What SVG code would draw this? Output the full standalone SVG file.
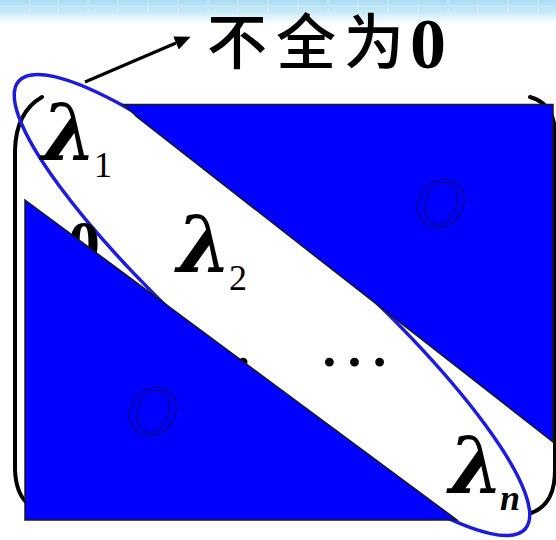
<svg xmlns="http://www.w3.org/2000/svg" width="556" height="540" viewBox="0 0 556 540">
<defs>
<linearGradient id="topband" x1="0" y1="0" x2="0" y2="1">
<stop offset="0" stop-color="#a9dcf3"/>
<stop offset="0.5" stop-color="#c8eaf8"/>
<stop offset="1" stop-color="#ffffff"/>
</linearGradient>
<marker id="arrowhead" viewBox="0 0 16 14" refX="0" refY="7" markerWidth="16" markerHeight="14" markerUnits="userSpaceOnUse" orient="auto">
<path d="M0,0 L16,7 L0,14 Z" fill="#000"/>
</marker>
<style>
.blk{fill:#0000ff;stroke:#1a1a1a;stroke-width:1.5;stroke-linejoin:miter}
.lam{font-family:"DejaVu Serif","Liberation Serif",serif;font-style:italic;font-weight:bold;font-size:78px;fill:#000}
.sub{font-family:"Liberation Serif","Times New Roman",serif;font-style:normal;font-weight:normal;font-size:36px}
.subn{font-family:"Liberation Serif","Times New Roman",serif;font-style:italic;font-weight:bold;font-size:36px}
.zero{font-family:"Liberation Serif","Times New Roman",serif;font-style:italic;fill:none;stroke:#000;stroke-width:0.6}
.brk{fill:none;stroke:#000;stroke-width:4;stroke-linecap:round}
.cjk{font-family:"Noto Sans CJK SC",sans-serif;font-size:60px;font-weight:500;fill:#000}
.dots{font-family:"Liberation Serif","Times New Roman",serif;font-size:75px;fill:#000}
</style>
</defs>
<rect x="0" y="0" width="556" height="540" fill="#ffffff"/>
<rect x="0" y="0" width="556" height="24" fill="url(#topband)"/>
<g stroke="#d8f1fb" stroke-width="1" opacity="0.7">
<line x1="30" y1="0" x2="30" y2="12"/><line x1="58" y1="0" x2="58" y2="12"/><line x1="88" y1="0" x2="88" y2="12"/><line x1="118" y1="0" x2="118" y2="12"/><line x1="148" y1="0" x2="148" y2="12"/><line x1="178" y1="0" x2="178" y2="12"/><line x1="208" y1="0" x2="208" y2="12"/><line x1="238" y1="0" x2="238" y2="12"/><line x1="268" y1="0" x2="268" y2="12"/><line x1="298" y1="0" x2="298" y2="12"/><line x1="328" y1="0" x2="328" y2="12"/><line x1="358" y1="0" x2="358" y2="12"/><line x1="388" y1="0" x2="388" y2="12"/><line x1="418" y1="0" x2="418" y2="12"/><line x1="448" y1="0" x2="448" y2="12"/><line x1="478" y1="0" x2="478" y2="12"/><line x1="508" y1="0" x2="508" y2="12"/><line x1="538" y1="0" x2="538" y2="12"/>
<line x1="0" y1="6" x2="556" y2="6"/>
</g>

<g id="brackets">
<path class="brk" d="M42,97 Q16,112 15,150 L15,470 Q16,492 26,502"/>
<path class="brk" d="M530,97 Q555,104 555,135 L555,470 Q555,505 531,513"/>
</g>

<g id="ellipse">
<ellipse cx="272" cy="305" rx="338" ry="73" transform="rotate(41.5 272 305)" fill="none" stroke="#1c1ce0" stroke-width="3.5"/>
</g>

<g id="hidden-labels">
<text x="68" y="265" font-family="Liberation Serif, Times New Roman, serif" font-weight="bold" font-size="64" fill="#000">0</text>
<text class="dots" x="218" y="366" text-anchor="middle">…</text>
</g>

<g id="upper-block">
<path class="blk" d="M123,104.5 L553,104.5 L553,442 L137,117 Q129,109 123,104.5 Z"/>
<text class="zero" x="440" y="227" font-size="72" text-anchor="middle">O</text>
</g>

<g id="lower-block">
<path class="blk" d="M25,200 L457,520 L25,520 Z"/>
<text class="zero" x="152" y="435" font-size="72" text-anchor="middle">O</text>
</g>

<g id="lambda1">
<text class="lam" x="42" y="160">λ<tspan class="sub" x="94" y="177">1</tspan></text>
</g>
<g id="lambda2">
<text class="lam" x="177" y="272">λ<tspan class="sub" x="229" y="290">2</tspan></text>
</g>
<g id="dots">
<text class="dots" x="354.5" y="366" text-anchor="middle">…</text>
</g>
<g id="lambdan">
<text class="lam" x="449" y="493">λ<tspan class="subn" x="500" y="510">n</tspan></text>
</g>

<g id="connectors">
<line x1="85" y1="82" x2="176" y2="43" stroke="#000" stroke-width="3" marker-end="url(#arrowhead)"/>
</g>

<g id="title">
<text class="cjk" x="237" y="64" text-anchor="middle">不</text>
<text class="cjk" x="306" y="64" text-anchor="middle">全</text>
<text class="cjk" x="374" y="64" text-anchor="middle">为</text>
<text x="410" y="68" font-family="Liberation Serif, Times New Roman, serif" font-weight="bold" font-size="72" fill="#000">0</text>
</g>
</svg>
